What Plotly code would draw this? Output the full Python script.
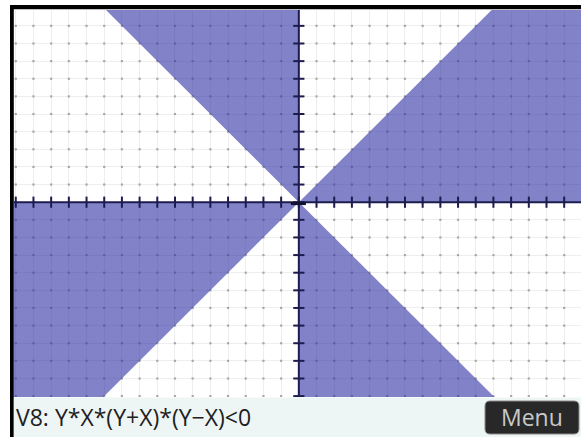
import numpy as np
import plotly.graph_objects as go

# ---- data ----
X_RANGE = [-16.1, 15.95]
Y_RANGE = [-11.05, 10.9]
GRID_STEP = 1
LABEL = "V8: Y*X*(Y+X)*(Y\u2212X)<0"
MENU = "Menu"
FILL = "rgba(47,47,163,0.6)"
AXIS_COLOR = "#1C1C50"

xmin, xmax = X_RANGE
ymin, ymax = Y_RANGE

# Regions where Y*X*(Y+X)*(Y-X) < 0 (bounded by X=0, Y=0, Y=X, Y=-X)
regions = [
    ([0, xmax, xmax, ymax], [0, 0, ymax, ymax]),      # 0 < Y < X
    ([0, 0, -ymax], [0, ymax, ymax]),                  # X < 0 < Y, |Y| > |X|
    ([0, ymin, xmin, xmin], [0, ymin, ymin, 0]),       # X < Y < 0
    ([0, 0, -ymin], [0, ymin, ymin]),                  # Y < 0 < X, |Y| > |X|
]

W, H = 581, 437
L, R, T, B = 14, 0, 10, 40
PW, PH = W - L - R, H - T - B


def PX(x):
    return (x - L) / PW


def PY(y):
    return (H - B - y) / PH


fig = go.Figure()

# grid dots at lattice points
gx = np.arange(np.ceil(xmin), np.floor(xmax) + 1, GRID_STEP)
gy = np.arange(np.ceil(ymin), np.floor(ymax) + 1, GRID_STEP)
GX, GY = np.meshgrid(gx, gy)
fig.add_trace(go.Scatter(x=GX.ravel(), y=GY.ravel(), mode="markers",
                         marker=dict(size=2.2, color="#A8A8A8", symbol="square"),
                         hoverinfo="skip", showlegend=False))

for rx, ry in regions:
    fig.add_trace(go.Scatter(x=rx, y=ry, fill="toself", mode="lines",
                             line=dict(width=0), fillcolor=FILL,
                             hoverinfo="skip", showlegend=False))

# axis tick marks
fig.add_trace(go.Scatter(x=gx, y=np.zeros_like(gx), mode="markers",
                         marker=dict(symbol="line-ns", size=8,
                                     line=dict(width=2, color=AXIS_COLOR)),
                         hoverinfo="skip", showlegend=False))
fig.add_trace(go.Scatter(x=np.zeros_like(gy), y=gy, mode="markers",
                         marker=dict(symbol="line-ew", size=8,
                                     line=dict(width=2, color=AXIS_COLOR)),
                         hoverinfo="skip", showlegend=False))

shapes = [
    dict(type="line", xref="x", yref="y", x0=xmin, x1=xmax, y0=0, y1=0,
         line=dict(color=AXIS_COLOR, width=2), layer="above"),
    dict(type="line", xref="x", yref="y", x0=0, x1=0, y0=ymin, y1=ymax,
         line=dict(color=AXIS_COLOR, width=2), layer="above"),
    dict(type="line", xref="x", yref="y", x0=-0.45, x1=0.4, y0=-0.08, y1=-0.08,
         line=dict(color="#111130", width=3), layer="above"),
    # frame
    dict(type="rect", xref="paper", yref="paper", x0=PX(10), x1=PX(581),
         y0=PY(9.3), y1=PY(5), fillcolor="black", line=dict(width=0), layer="above"),
    dict(type="rect", xref="paper", yref="paper", x0=PX(10), x1=PX(13.8),
         y0=PY(437), y1=PY(5), fillcolor="black", line=dict(width=0), layer="above"),
    # bottom bar
    dict(type="rect", xref="paper", yref="paper", x0=PX(13.8), x1=PX(581),
         y0=PY(437), y1=PY(397.5), fillcolor="#EEF6F5", line=dict(width=0), layer="above"),
]

# rounded menu button
bx0, bx1, by0, by1, r = 485, 579, 401, 434, 5


def P(x, y):
    return f"{PX(x):.5f},{PY(y):.5f}"


path = (f"M {P(bx0 + r, by0)} L {P(bx1 - r, by0)} Q {P(bx1, by0)} {P(bx1, by0 + r)} "
        f"L {P(bx1, by1 - r)} Q {P(bx1, by1)} {P(bx1 - r, by1)} "
        f"L {P(bx0 + r, by1)} Q {P(bx0, by1)} {P(bx0, by1 - r)} "
        f"L {P(bx0, by0 + r)} Q {P(bx0, by0)} {P(bx0 + r, by0)} Z")
shapes.append(dict(type="path", xref="paper", yref="paper", path=path,
                   fillcolor="#282828", line=dict(color="#8A8A8A", width=1), layer="above"))

fig.update_layout(
    width=W, height=H,
    margin=dict(l=L, r=R, t=T, b=B, pad=0),
    paper_bgcolor="white", plot_bgcolor="white",
    shapes=shapes,
    xaxis=dict(range=X_RANGE, dtick=GRID_STEP, tick0=0, showgrid=True,
               gridcolor="#EEEEEE", gridwidth=1, zeroline=False,
               showticklabels=False, ticks="", showline=False, fixedrange=True),
    yaxis=dict(range=Y_RANGE, dtick=GRID_STEP, tick0=0, showgrid=True,
               gridcolor="#EEEEEE", gridwidth=1, zeroline=False,
               showticklabels=False, ticks="", showline=False, fixedrange=True),
    annotations=[
        dict(xref="paper", yref="paper", x=PX(14), y=PY(417), text=LABEL,
             showarrow=False, xanchor="left", yanchor="middle",
             font=dict(family="Open Sans", size=23, color="#202020")),
        dict(xref="paper", yref="paper", x=PX(532), y=PY(417), text=MENU,
             showarrow=False, xanchor="center", yanchor="middle",
             font=dict(family="Open Sans", size=23, color="#C8C8C8")),
    ],
)

fig.write_html("out.html", config={"displayModeBar": False},
               post_script="document.body.style.margin='0';document.body.style.overflow='hidden';")
